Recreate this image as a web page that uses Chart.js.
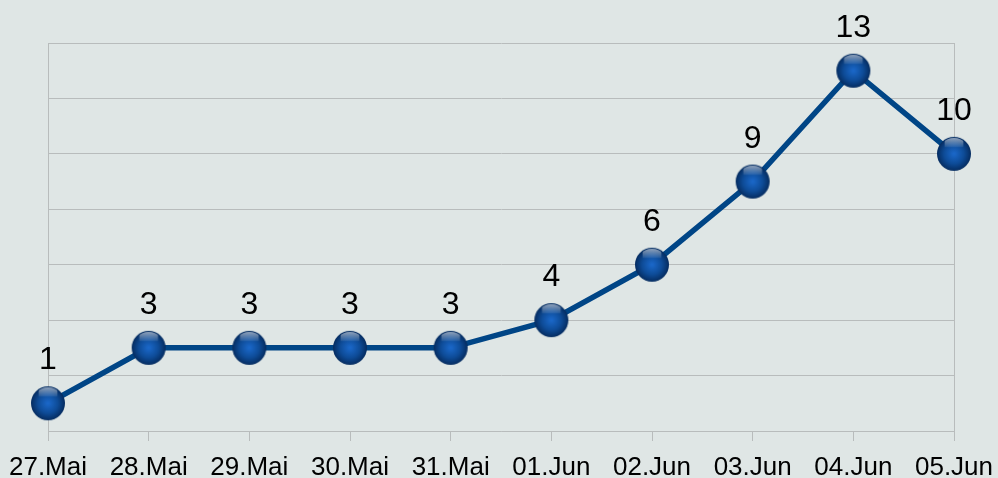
<!DOCTYPE html>
<html>
<head>
<meta charset="utf-8">
<script src="https://cdn.jsdelivr.net/npm/chart.js@4"></script>
<style>
  html, body { margin: 0; padding: 0; background: #dfe6e5; }
  #wrap { width: 998px; height: 478px; }
</style>
</head>
<body>
<div id="wrap"><canvas id="chart" width="998" height="478"></canvas></div>
<script>
// data
var days = ['27.Mai', '28.Mai', '29.Mai', '30.Mai', '31.Mai', '01.Jun', '02.Jun', '03.Jun', '04.Jun', '05.Jun'];
var cases = [1, 3, 3, 3, 3, 4, 6, 9, 13, 10];
var yMin = 0, yMax = 14, yStep = 2;

var lineBlue = '#004586';
var gridGrey = '#b8bcbc';

// glossy ball marker
function makeBall(r) {
    var c = document.createElement('canvas');
    c.width = c.height = r * 2 + 2;
    var g = c.getContext('2d');
    var cx = r + 1, cy = r + 1;
    var grad = g.createRadialGradient(cx, cy, 1, cx, cy, r);
    grad.addColorStop(0, '#1a66c6');
    grad.addColorStop(0.55, '#0e4c98');
    grad.addColorStop(1, '#052c60');
    g.beginPath();
    g.arc(cx, cy, r, 0, Math.PI * 2);
    g.fillStyle = grad;
    g.fill();
    // highlight at the top
    g.save();
    g.beginPath();
    g.arc(cx, cy, r - 1, 0, Math.PI * 2);
    g.clip();
    var hl = g.createLinearGradient(0, cy - r, 0, cy - r * 0.4);
    hl.addColorStop(0, 'rgba(255,255,255,0.6)');
    hl.addColorStop(1, 'rgba(255,255,255,0.08)');
    g.fillStyle = hl;
    g.fillRect(cx - r * 0.55, cy - r, r * 1.1, r * 0.6);
    g.restore();
    return c;
}
var ball = makeBall(17);

// value labels above the points
var valueLabels = {
    id: 'valueLabels',
    afterDatasetsDraw: function (chart) {
        var ctx = chart.ctx;
        var meta = chart.getDatasetMeta(0);
        ctx.save();
        ctx.font = '32px "Liberation Sans", Arial, sans-serif';
        ctx.fillStyle = '#000';
        ctx.textAlign = 'center';
        ctx.textBaseline = 'alphabetic';
        meta.data.forEach(function (pt, i) {
            ctx.fillText(String(cases[i]), pt.x, pt.y - 34);
        });
        ctx.restore();
    }
};

new Chart(document.getElementById('chart'), {
    type: 'line',
    data: {
        labels: days,
        datasets: [{
            data: cases,
            borderColor: lineBlue,
            borderWidth: 5.5,
            tension: 0,
            pointStyle: ball,
            pointRadius: 17,
            pointHoverRadius: 17
        }]
    },
    options: {
        responsive: false,
        animation: false,
        events: [],
        layout: { padding: { top: 43 } },
        plugins: { legend: { display: false }, tooltip: { enabled: false } },
        scales: {
            x: {
                offset: false,
                grid: { drawOnChartArea: false, drawTicks: true, tickLength: 10, color: gridGrey },
                border: { color: gridGrey, width: 1 },
                ticks: {
                    color: '#000',
                    maxRotation: 0,
                    autoSkip: false,
                    padding: 11,
                    font: { family: '"Liberation Sans", Arial, sans-serif', size: 26 }
                },
                afterFit: function (s) {
                    s.height = 47;
                    s.paddingLeft = 0;
                    s.paddingRight = 0;
                }
            },
            y: {
                min: yMin,
                max: yMax,
                ticks: { stepSize: yStep, display: false },
                grid: { color: gridGrey, drawTicks: false },
                border: { color: gridGrey },
                afterFit: function (s) { s.width = 48; }
            },
            y2: {
                position: 'right',
                min: yMin,
                max: yMax,
                ticks: { display: false },
                grid: { drawOnChartArea: false, drawTicks: false },
                border: { color: gridGrey },
                afterFit: function (s) { s.width = 44; }
            }
        }
    },
    plugins: [valueLabels]
});
</script>
</body>
</html>
